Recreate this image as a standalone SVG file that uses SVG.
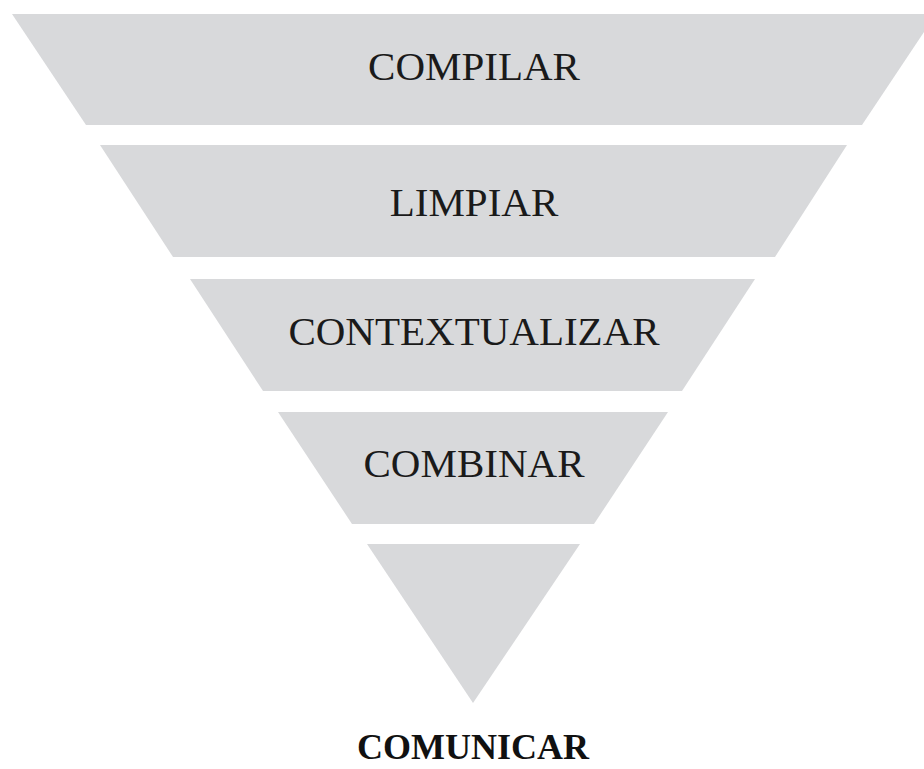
<svg xmlns="http://www.w3.org/2000/svg" width="924" height="769" viewBox="0 0 924 769">
<style>
.band{fill:#d8d9db;}
.lbl{font-family:"Liberation Serif","Times New Roman",serif;font-size:41px;fill:#1a1a1a;text-anchor:middle;}
.out{font-family:"Liberation Serif","Times New Roman",serif;font-size:36px;font-weight:bold;fill:#111;text-anchor:middle;}
</style>
<rect width="924" height="769" fill="#ffffff"/>
<g id="compilar">
<polygon class="band" points="12,14 936,14 862,125 86,125"/>
<text class="lbl" x="474" y="80">COMPILAR</text>
</g>
<g id="limpiar">
<polygon class="band" points="100,145 847,145 775,257 173,257"/>
<text class="lbl" x="474" y="216">LIMPIAR</text>
</g>
<g id="contextualizar">
<polygon class="band" points="190,279 755,279 682,391 263,391"/>
<text class="lbl" x="474" y="345">CONTEXTUALIZAR</text>
</g>
<g id="combinar">
<polygon class="band" points="278,412 668,412 594,524 352,524"/>
<text class="lbl" x="474" y="477">COMBINAR</text>
</g>
<g id="comunicar">
<polygon class="band" points="367,544 580,544 473,703"/>
<text class="out" x="473" y="759">COMUNICAR</text>
</g>
<g id="connectors"></g>
</svg>
